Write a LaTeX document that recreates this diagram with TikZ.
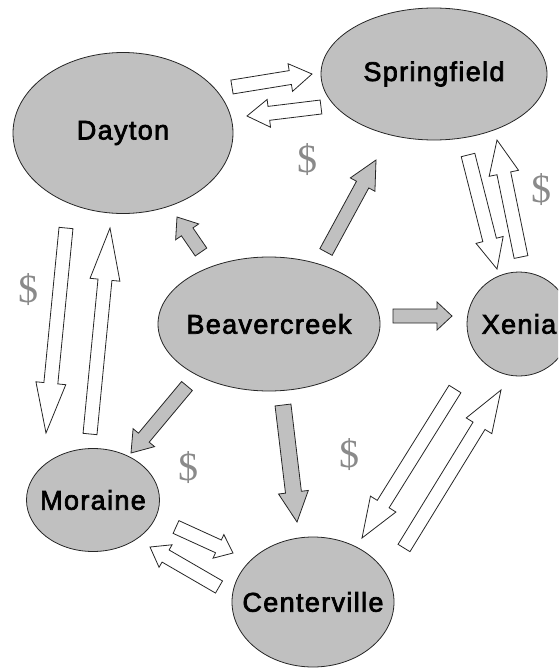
\documentclass[tikz,border=0pt]{standalone}
\usepackage{fontspec}
\setmainfont{Liberation Sans}
\newfontfamily\townfont[LetterSpace=5,FakeBold=2.6]{Liberation Sans}
\newfontfamily\dollarfont{Liberation Serif}
\usetikzlibrary{calc,shapes.geometric}
\definecolor{townfill}{HTML}{C0C0C0}
\definecolor{moneygray}{HTML}{8A8A8A}
\tikzset{
  town/.style={ellipse, draw=black!85, fill=townfill, line width=0.8pt, inner sep=0pt},
  townlabel/.style={font=\townfont\fontsize{27}{30}\selectfont, inner sep=0pt},
  whitearrow/.style={draw=black!85, fill=white, line width=0.8pt, line join=miter},
  grayarrow/.style={draw=black!85, fill=townfill, line width=0.8pt, line join=miter},
  money/.style={text=moneygray, font=\dollarfont\fontsize{40}{44}\selectfont, inner sep=0pt}
}
% block arrow: [style]{tail}{tip}{shaft half width}{head half width}{head length}
\newcommand\blockarrow[6][]{%
  \coordinate (ba-h) at ($(#3)!#6!(#2)$);
  \draw[#1] ($(#2)!#4!90:(#3)$) -- ($(ba-h)!#4!90:(#3)$) -- ($(ba-h)!#5!90:(#3)$)
    -- (#3) -- ($(ba-h)!#5!-90:(#3)$) -- ($(ba-h)!#4!-90:(#3)$)
    -- ($(#2)!#4!-90:(#3)$) -- cycle;
}
\begin{document}
\begin{tikzpicture}[x=1pt,y=-1pt]
\useasboundingbox (0,0) rectangle (558,669);
\begin{scope}
\clip (0,0) rectangle (558,669);
% towns
\node[town, minimum width=220pt, minimum height=161pt, label={[townlabel]center:Dayton}] (dayton) at (123,133) {};
\node[town, minimum width=226pt, minimum height=132pt, label={[townlabel]center:Springfield}] (springfield) at (434,74) {};
\node[town, minimum width=222pt, minimum height=134pt, label={[townlabel]center:Beavercreek}] (beavercreek) at (269,324) {};
\node[town, minimum width=104pt, minimum height=104pt, label={[townlabel]center:Xenia}] (xenia) at (519,324) {};
\node[town, minimum width=133pt, minimum height=103pt, label={[townlabel]center:Moraine}] (moraine) at (93,500) {};
\node[town, minimum width=162pt, minimum height=130pt, label={[townlabel]center:Centerville}] (centerville) at (313,602) {};
\end{scope}
% arrow end points
\coordinate (ds1) at (232,87);  \coordinate (ds2) at (312,74);
\coordinate (sd1) at (321,107); \coordinate (sd2) at (247,116);
\coordinate (sx1) at (468,155); \coordinate (sx2) at (497,269);
\coordinate (xs1) at (521,257); \coordinate (xs2) at (497,140);
\coordinate (dm1) at (66,228);  \coordinate (dm2) at (46,433);
\coordinate (md1) at (90,434);  \coordinate (md2) at (110,228);
\coordinate (bd1) at (201,252); \coordinate (bd2) at (177,217);
\coordinate (bs1) at (326,252); \coordinate (bs2) at (376,160);
\coordinate (bx1) at (393,316); \coordinate (bx2) at (452,316);
\coordinate (bm1) at (187,386); \coordinate (bm2) at (131,453);
\coordinate (bc1) at (283,405); \coordinate (bc2) at (297,522);
\coordinate (xc1) at (455,389); \coordinate (xc2) at (362,538);
\coordinate (cx1) at (404,548); \coordinate (cx2) at (501,390);
\coordinate (mc1) at (176,527); \coordinate (mc2) at (233,553);
\coordinate (cm1) at (219,587); \coordinate (cm2) at (150,547);
% white (money) arrows
\blockarrow[whitearrow]{ds1}{ds2}{7pt}{14pt}{22pt}
\blockarrow[whitearrow]{sd1}{sd2}{7pt}{14pt}{22pt}
\blockarrow[whitearrow]{sx1}{sx2}{7pt}{14pt}{30pt}
\blockarrow[whitearrow]{xs1}{xs2}{7pt}{15pt}{34pt}
\blockarrow[whitearrow]{dm1}{dm2}{7pt}{15pt}{50pt}
\blockarrow[whitearrow]{md1}{md2}{7pt}{15pt}{52pt}
\blockarrow[whitearrow]{xc1}{xc2}{7pt}{15pt}{40pt}
\blockarrow[whitearrow]{cx1}{cx2}{7pt}{15pt}{42pt}
\blockarrow[whitearrow]{mc1}{mc2}{7pt}{13pt}{16pt}
\blockarrow[whitearrow]{cm1}{cm2}{7pt}{13pt}{18pt}
% gray arrows from Beavercreek
\blockarrow[grayarrow]{bd1}{bd2}{7pt}{14pt}{18pt}
\blockarrow[grayarrow]{bs1}{bs2}{7pt}{14pt}{28pt}
\blockarrow[grayarrow]{bx1}{bx2}{7pt}{14pt}{15pt}
\blockarrow[grayarrow]{bm1}{bm2}{7pt}{14pt}{20pt}
\blockarrow[grayarrow]{bc1}{bc2}{8pt}{15pt}{30pt}
% dollar signs
\node[money] (m1) at (307,160) {\$};
\node[money] (m2) at (541,190) {\$};
\node[money] (m3) at (28,290) {\$};
\node[money] (m4) at (188,468) {\$};
\node[money] (m5) at (349,455) {\$};
\end{tikzpicture}
\end{document}
